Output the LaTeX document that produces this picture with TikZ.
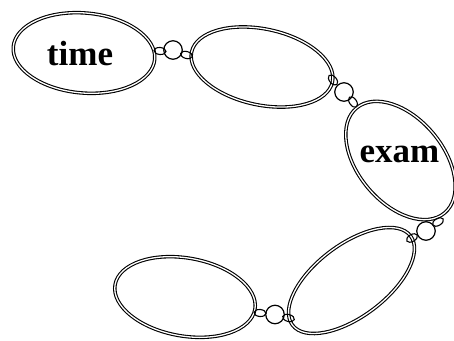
\documentclass[tikz,border=0pt]{standalone}
\usepackage{fontspec}
\setmainfont{Liberation Serif}
\usetikzlibrary{
    positioning,
    shapes.geometric
}
\tikzset{
    % The big links of the chain
    ring/.style={
        ellipse,
        draw=black,
        double=white,
        double distance=1.3pt,
        line width=1.1pt,
        inner sep=0pt
    },
    ringName/.style={
        draw=none,
        inner sep=0pt,
        anchor=base,
        font=\fontsize{35}{35}\selectfont\bfseries
    },
    % Joints between the links
    bead/.style={
        circle,
        draw=black,
        line width=1.2pt,
        minimum size=18.5pt,
        inner sep=0pt
    },
    hook/.style={
        ellipse,
        draw=black,
        line width=1.1pt,
        minimum width=12pt,
        minimum height=7pt,
        inner sep=0pt
    }
}

\begin{document}
\begin{tikzpicture}[x=1pt,y=-1pt]

    \useasboundingbox (0,0) rectangle (454,340);

    \node[ring, minimum width=142pt, minimum height=80pt, rotate=-5] (timeRing) at (84,53) {};
    \node[ring, minimum width=144pt, minimum height=76pt, rotate=-12] (midRing) at (262,67) {};
    \node[ring, minimum width=137pt, minimum height=85pt, rotate=-50] (examRing) at (400.5,160.5) {};
    \node[ring, minimum width=148pt, minimum height=72pt, rotate=37] (lowRing) at (351.5,280.5) {};
    \node[ring, minimum width=142pt, minimum height=78pt, rotate=-10] (endRing) at (185,297) {};

    \node[ringName] (timeName) at (80,65) {time};
    \node[ringName] (examName) at (399.5,162) {exam};

    \node[hook, rotate=-5] (hookA1) at (160,51) {};
    \node[bead] (beadA) at (173,50) {};
    \node[hook, rotate=-15] (hookA2) at (186.5,55) {};

    \node[hook, rotate=-50] (hookB1) at (333,80) {};
    \node[bead] (beadB) at (344,92) {};
    \node[hook, rotate=-55] (hookB2) at (353,102) {};

    \node[hook, rotate=30] (hookC1) at (438,222) {};
    \node[bead] (beadC) at (426,231) {};
    \node[hook, rotate=30] (hookC2) at (412,238) {};

    \node[hook, rotate=-5] (hookD1) at (260,313) {};
    \node[bead] (beadD) at (275,314.5) {};
    \node[hook, rotate=-15] (hookD2) at (288.5,318) {};

\end{tikzpicture}
\end{document}
